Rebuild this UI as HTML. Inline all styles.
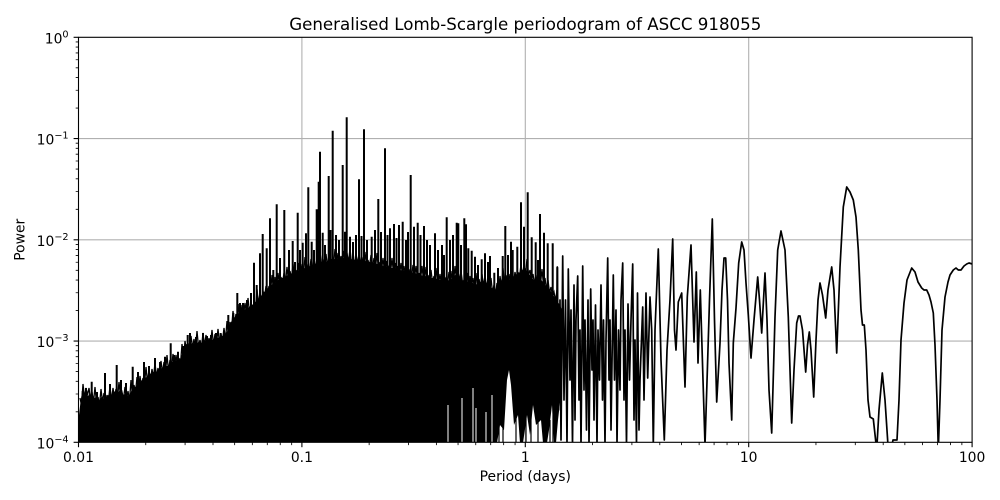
<!DOCTYPE html>
<html>
<head>
<meta charset="utf-8">
<style>
  html, body { margin: 0; padding: 0; background: #ffffff; }
  svg { display: block; }
  text { font-family: "DejaVu Sans", "Liberation Sans", sans-serif; fill: #000; }
</style>
</head>
<body>
<svg width="1000" height="500" viewBox="0 0 1000 500" xmlns="http://www.w3.org/2000/svg">
  <defs>
    <clipPath id="plot">
      <rect x="78.5" y="37.3" width="893.6" height="405"/>
    </clipPath>
  </defs>
  <rect x="0" y="0" width="1000" height="500" fill="#ffffff"/>

  <!-- grid -->
  <g stroke="#b0b0b0" stroke-width="1.1" fill="none">
    <line x1="301.9" y1="37.3" x2="301.9" y2="442.3"/>
    <line x1="525.3" y1="37.3" x2="525.3" y2="442.3"/>
    <line x1="748.7" y1="37.3" x2="748.7" y2="442.3"/>
    <line x1="78.5" y1="138.55" x2="972.1" y2="138.55"/>
    <line x1="78.5" y1="239.8" x2="972.1" y2="239.8"/>
    <line x1="78.5" y1="341.05" x2="972.1" y2="341.05"/>
  </g>

  <g clip-path="url(#plot)">
    <!-- solid mass -->
    <path fill="#000" stroke="none" d="M79,443 L79,415 L80.5,402 L82,392 L84,395 L86,390 L88,396 L90,393 L93,399 L96,397 L99,401 L102,396 L105,400 L108,395 L111,397 L114,391 L117,394 L120,390 L123,396 L126,393 L129,397 L132,389 L135,387 L138,384 L141,381 L144,378 L147,377 L150,374 L153,372 L156,373 L159,369 L162,368 L165,366 L168,366 L171,362 L174,362 L177,360 L180,359 L183,352 L186,344 L189,345 L192,343 L195,344 L198,342 L201,343 L204,340 L207,341 L210,339 L213,340 L216,337 L219,338 L222,336 L225,335 L228,330 L231,322 L234,318 L237,315 L240,312 L243,310 L246,309 L249,307 L252,305 L255,302 L258,300 L261,296 L264,292 L267,289 L270,286 L274,283 L278,280 L282,278 L286,276 L290,274 L295,272 L300,270 L305,268 L310,266 L315,264 L320,262 L325,262 L330,260 L335,259 L340,258 L345,258 L350,259 L355,260 L360,260 L365,261 L370,262 L375,263 L380,265 L385,266 L390,268 L395,268 L400,270 L405,271 L410,272 L415,273 L420,275 L425,276 L430,278 L435,278 L440,280 L445,278 L450,281 L455,275 L460,277 L465,283 L470,280 L475,285 L480,282 L485,283 L490,287 L495,290 L500,282 L505,276 L510,280 L515,275 L520,272 L525,268 L530,275 L535,282 L540,278 L545,285 L550,290 L555,298 L560,305 L562,310 L562,385 L558,420 L556,443 L554,443 L552,405 L549,430 L547,443 L543,443 L541,420 L536,425 L533,405 L530,435 L527,415 L523,443 L520,443 L518,415 L514,425 L511,385 L509,370 L507,380 L504,430 L500,425 L497,443 Z"/>

    <!-- jagged envelope texture -->
    <path fill="none" stroke="#000" stroke-width="1.3" stroke-linejoin="miter" d="M80,398 L81.5,405 L83,384 L84.5,398 L86,388 L87.5,395 L89,388 L90.5,400 L92,392 L93.5,402 L95,387 L96.5,403 L98,397 L99.5,405 L101,389 L102.5,402 L104,393 L105.5,404 L107,395 L108.5,401 L110,386 L111.5,401 L113,388 L114.5,398 L116,389 L117.5,398 L119,382 L120.5,396 L122,392 L123.5,399 L125,387 L126.5,399 L128,391 L129.5,401 L131,380 L132.5,396 L134,385 L135.5,393 L137,377 L138.5,390 L140,376 L141.5,387 L143,378 L144.5,384 L146,367 L147.5,382 L149,370 L150.5,380 L152,369 L153.5,378 L155,363 L156.5,377 L158,368 L159.5,375 L161,361 L162.5,373 L164,362 L165.5,372 L167,355 L168.5,371 L170,360 L171.5,368 L173,354 L174.5,367 L176,355 L177.5,366 L179,358 L180.5,364 L182,344 L183.5,359 L185,341 L186.5,351 L188,343 L189.5,350 L191,336 L192.5,348 L194,339 L195.5,349 L197,331 L198.5,347 L200,340 L201.5,348 L203,333 L204.5,346 L206,335 L207.5,346 L209,338 L210.5,344 L212,330 L213.5,345 L215,334 L216.5,343 L218,329 L219.5,343 L221,334 L222.5,341 L224,328 L225.5,340 L227,321 L228.5,337 L230,322 L231.5,330 L233,311 L234.5,324 L236,314 L237.5,321 L239,304 L240.5,318 L242,305 L243.5,315 L245,303 L246.5,314 L248,298 L249.5,313 L251,304 L252.5,311 L254,303 L255.5,308 L257,289 L258.5,305 L260,292 L261.5,302 L263,291 L264.5,298 L266,286 L267.5,295 L269,286 L270.5,292 L272,275 L273.5,290 L275,277 L276.5,287 L278,273 L279.5,285 L281,277 L282.5,283 L284,273 L285.5,282 L287,267 L288.5,281 L290,271 L291.5,279 L293,264 L294.5,278 L296,270 L297.5,277 L299,263 L300.5,275 L302,264 L303.5,274 L305,257 L306.5,273 L308,264 L309.5,272 L311,259 L312.5,271 L314,258 L315.5,269 L317,261 L318.5,268 L320,251 L321.5,267 L323,259 L324.5,267 L326,254 L327.5,267 L329,254 L330.5,265 L332,259 L333.5,265 L335,249 L336.5,264 L338,253 L339.5,263 L341,256 L342.5,263 L344,251 L345.5,263 L347,253 L348.5,263 L350,248 L351.5,264 L353,257 L354.5,265 L356,252 L357.5,265 L359,254 L360.5,265 L362,257 L363.5,266 L365,252 L366.5,266 L368,260 L369.5,267 L371,255 L372.5,267 L374,258 L375.5,268 L377,253 L378.5,269 L380,262 L381.5,270 L383,258 L384.5,271 L386,261 L387.5,272 L389,267 L390.5,273 L392,258 L393.5,273 L395,263 L396.5,273 L398,266 L399.5,275 L401,263 L402.5,275 L404,266 L405.5,276 L407,260 L408.5,276 L410,269 L411.5,277 L413,265 L414.5,278 L416,266 L417.5,279 L419,273 L420.5,280 L422,266 L423.5,280 L425,267 L426.5,281 L428,275 L429.5,282 L431,270 L432.5,283 L434,276 L435.5,283 L437,268 L438.5,284 L440,274 L441.5,285 L443,270 L444.5,284 L446,277 L447.5,284 L449,272 L450.5,285 L452,271 L453.5,283 L455,266 L456.5,280 L458,271 L459.5,281 L461,271 L462.5,283 L464,280 L465.5,287 L467,273 L468.5,287 L470,276 L471.5,285 L473,278 L474.5,288 L476,273 L477.5,289 L479,279 L480.5,287 L482,274 L483.5,287 L485,275 L486.5,288 L488,279 L489.5,290 L491,278 L492.5,293 L494,285 L495.5,295 L497,283 L498.5,292 L500,276 L501.5,287 L503,268 L504.5,284 L506,275 L507.5,282 L509,274 L510.5,284 L512,267 L513.5,283 L515,272 L516.5,280 L518,272 L519.5,278 L521,264 L522.5,276 L524,266 L525.5,274 L527,259 L528.5,275 L530,270 L531.5,280 L533,274 L534.5,284 L536,275 L537.5,286 L539,278 L540.5,284 L542,269 L543.5,285 L545,278 L546.5,290 L548,280 L549.5,293 L551,287 L552.5,296 L554,292 L555.5,301 L557,290"/>

    <!-- thin white gaps in the lower mass -->
    <path fill="none" stroke="#fff" stroke-width="1" d="M448,405 V443 M462,398 V443 M473,388 V443 M476,408 V443 M486,412 V443 M492,395 V443"/>

    <!-- thin lines reaching the bottom -->
    <path fill="none" stroke="#000" stroke-width="1.2" d="M499,400 V443 M503,405 V443 M516,410 V443 M526,410 V443 M531,400 V443 M538,415 V443 M550,420 V443 M553,400 V443"/>

    <!-- spikes, low-period group -->
    <path fill="none" stroke="#000" stroke-width="2" d="M82.7,420 V391 M86,420 V388 M91.7,420 V381.7 M97,420 V392 M105,420 V373 M110,420 V384 M116.7,420 V365 M121,420 V380 M126,420 V383 M132.7,420 V366.7 M138,420 V372 M144,420 V362 M149,420 V366 M155,420 V358 M160,420 V362 M165,420 V356.7 M170.7,420 V343.3 M174,420 V355 M178,420 V351.7 M183,420 V346 M187.7,420 V335 M190,420 V333 M196,420 V337 M203,420 V333 M207,420 V336 M211,420 V335 M216,420 V333 M220.7,420 V333 M224,420 V331 M228.3,420 V315 M233.3,420 V313 M237.3,420 V293 M240,420 V303 M243,420 V303 M247,420 V300"/>

    <!-- spikes, main group -->
    <path fill="none" stroke="#000" stroke-width="2" d="M251,330 V293 M254,330 V262.7 M256.7,330 V285 M260,330 V253.3 M262.7,330 V234 M266.7,330 V248.3 M270,330 V218.3 M273.3,330 V270 M276.7,330 V204.3 M280,330 V258 M284.3,330 V210 M289,330 V250 M292.7,330 V241 M295,330 V262 M297.7,330 V212.7 M300,330 V250 M302.7,330 V242.7 M306,330 V233.3 M308.3,330 V187.3 M311.7,330 V241.7 M314,330 V250 M316.7,330 V209.3 M318.7,330 V181.7 M320,330 V151.7 M322.7,330 V232.7 M325,330 V245 M328.7,330 V176 M330.5,330 V230 M332.7,330 V130.7 M336,330 V235 M339,330 V240 M342.7,330 V165 M345,330 V231.7 M346.7,330 V117.3 M350,330 V236.7 M353,330 V242 M356,330 V235 M359,330 V179.3 M361.5,330 V236 M364,330 V129.3 M367,330 V240 M371.7,330 V236.7 M375,330 V230 M378.3,330 V199 M381,330 V232 M385,330 V148.3 M387.5,330 V235 M390,330 V228.3 M394,330 V224 M396.5,330 V238 M399,330 V225 M402.7,330 V221.7 M406,330 V240 M408,330 V232 M410.7,330 V175 M414,330 V226.7 M417.7,330 V222.7 M420.5,330 V235 M424,330 V226 M427,330 V240 M430,330 V245 M435,330 V233.3 M438,330 V250 M442,330 V245 M444,330 V255 M446.7,330 V217.3 M450,330 V240 M453,330 V235 M456.7,330 V222.7 M458.3,330 V223.3 M461,330 V245 M464.3,330 V218.3 M466,330 V224.3 M468.3,330 V248.3 M471.7,330 V250.7 M475,330 V256.7 M478,330 V265 M481.7,330 V259.3 M485,330 V253.3 M488,330 V262 M490,330 V256 M494.3,330 V272.7 M498,330 V268 M502.7,330 V256 M505.3,330 V226 M508,330 V255 M511,330 V241.7 M512.7,330 V250 M517.3,330 V246.7 M521,330 V202.3 M524,330 V226.7 M527.7,330 V192.3 M531.7,330 V237.3 M535.7,330 V242.3 M538,330 V260 M540,330 V214 M544,330 V232.7 M547.7,330 V243.3 M552.7,330 V243.3 M557.3,330 V267.3"/>

    <!-- zigzag and smooth long-period curve -->
    <path fill="none" stroke="#000" stroke-width="1.7" stroke-linejoin="round" d="M555,298 L556,420 L557.3,267 L558.5,410 L560,300 L561,440 L562.7,256 L564,400 L565.5,300 L567,445 L568.3,269 L570,380 L571,310 L572.5,445 L574,285 L575,420 L576,320 L577.7,276 L579,400 L580,330 L581,445 L582.7,266 L584,390 L585,320 L586.5,430 L588,300 L589,445 L590.7,289 L592,370 L593,320 L594,420 L595.5,305 L597,445 L598,330 L599.5,380 L601,285 L602.5,400 L603.5,320 L605,445 L606,340 L607.7,258 L609,380 L610,320 L611,430 L613.3,275 L614.5,380 L616,310 L617,445 L618.5,330 L620,390 L621,300 L622.7,263 L624,400 L625,330 L626.5,445 L628,304 L629.5,380 L631,320 L632.7,264 L634,420 L635,340 L636.5,445 L637.5,293 L639,430 L640,380 L642.7,307 L644,400 L646,293 L647.7,378 L650,297 L651.7,330 L653.3,445 L655,330 L658.3,249 L661,360 L664.3,440 L667,350 L670,300 L672.7,239 L674.5,330 L676,350 L678.3,302 L681.7,293 L685,387 L687.3,297 L691,245 L694,342 L696.3,272 L698,363 L700.3,290 L703,380 L705,445 L707.3,372 L709.5,300 L712.3,219 L714.5,320 L716.7,402 L720,343 L722,290 L724,258 L725.7,258 L727.5,300 L729,363 L731.7,420 L733.3,343 L736,308 L738.7,263 L741.7,242 L744,250 L746,283 L748.3,315 L751,358 L754,320 L757.7,277 L759.5,300 L761.7,333 L763.5,300 L765,273 L767,320 L769,390 L771.7,433 L775,317 L777.7,250 L781,231 L785,250 L788.3,317 L791.7,423 L794,370 L796.7,323 L798.5,316 L800,316 L802.5,330 L805.7,372 L807.5,345 L809.3,332 L811,350 L813.7,397 L816,340 L818,300 L820,283 L822.5,295 L825.7,318 L828,290 L831.7,267 L834,290 L836.7,353 L840,267 L843.3,207 L846.7,187 L850,192 L853.3,200 L856,217 L858.3,250 L861,310 L862.5,325 L864.3,325 L866,350 L868,400 L870,417 L873.3,419 L876.7,450 L879,410 L882.3,373 L885,400 L888.3,450 L891,450 L893,440 L897,440 L899,400 L901,340 L904,303 L907,280 L911.7,268 L915,272 L918,282 L921.7,288 L924,290 L926.7,290 L929,295 L931,302 L933.3,313 L935,345 L937,400 L938.3,450 L940,400 L942,330 L945,297 L948,282 L950,275 L953.3,270 L956,268 L958.3,270 L961,270 L964,266 L966.7,264 L969,263 L972.3,264"/>
  </g>

  <!-- spines -->
  <rect x="78.5" y="37.3" width="893.6" height="405" fill="none" stroke="#000" stroke-width="1.1"/>

  <!-- x ticks -->
  <g stroke="#000" stroke-width="1.1">
    <line x1="78.5" y1="442.3" x2="78.5" y2="447.2"/>
    <line x1="301.9" y1="442.3" x2="301.9" y2="447.2"/>
    <line x1="525.3" y1="442.3" x2="525.3" y2="447.2"/>
    <line x1="748.7" y1="442.3" x2="748.7" y2="447.2"/>
    <line x1="972.1" y1="442.3" x2="972.1" y2="447.2"/>
  </g>
  <path stroke="#000" stroke-width="0.85" fill="none" d="M145.75,442.3 v2.8 M185.09,442.3 v2.8 M213,442.3 v2.8 M234.65,442.3 v2.8 M252.34,442.3 v2.8 M267.29,442.3 v2.8 M280.25,442.3 v2.8 M291.67,442.3 v2.8 M369.15,442.3 v2.8 M408.49,442.3 v2.8 M436.4,442.3 v2.8 M458.05,442.3 v2.8 M475.74,442.3 v2.8 M490.69,442.3 v2.8 M503.65,442.3 v2.8 M515.07,442.3 v2.8 M592.55,442.3 v2.8 M631.89,442.3 v2.8 M659.8,442.3 v2.8 M681.45,442.3 v2.8 M699.14,442.3 v2.8 M714.09,442.3 v2.8 M727.05,442.3 v2.8 M738.47,442.3 v2.8 M815.95,442.3 v2.8 M855.29,442.3 v2.8 M883.2,442.3 v2.8 M904.85,442.3 v2.8 M922.54,442.3 v2.8 M937.49,442.3 v2.8 M950.45,442.3 v2.8 M961.87,442.3 v2.8"/>

  <!-- y ticks -->
  <g stroke="#000" stroke-width="1.1">
    <line x1="73.6" y1="37.3" x2="78.5" y2="37.3"/>
    <line x1="73.6" y1="138.55" x2="78.5" y2="138.55"/>
    <line x1="73.6" y1="239.8" x2="78.5" y2="239.8"/>
    <line x1="73.6" y1="341.05" x2="78.5" y2="341.05"/>
    <line x1="73.6" y1="442.3" x2="78.5" y2="442.3"/>
  </g>
  <path stroke="#000" stroke-width="0.85" fill="none" d="M78.5,108.07 h-2.8 M78.5,90.24 h-2.8 M78.5,77.59 h-2.8 M78.5,67.78 h-2.8 M78.5,59.76 h-2.8 M78.5,52.98 h-2.8 M78.5,47.11 h-2.8 M78.5,41.93 h-2.8 M78.5,209.32 h-2.8 M78.5,191.49 h-2.8 M78.5,178.84 h-2.8 M78.5,169.03 h-2.8 M78.5,161.01 h-2.8 M78.5,154.23 h-2.8 M78.5,148.36 h-2.8 M78.5,143.18 h-2.8 M78.5,310.57 h-2.8 M78.5,292.74 h-2.8 M78.5,280.09 h-2.8 M78.5,270.28 h-2.8 M78.5,262.26 h-2.8 M78.5,255.48 h-2.8 M78.5,249.61 h-2.8 M78.5,244.43 h-2.8 M78.5,411.82 h-2.8 M78.5,393.99 h-2.8 M78.5,381.34 h-2.8 M78.5,371.53 h-2.8 M78.5,363.51 h-2.8 M78.5,356.73 h-2.8 M78.5,350.86 h-2.8 M78.5,345.68 h-2.8"/>

  <!-- x tick labels -->
  <g font-size="13.89" text-anchor="middle">
    <text x="78.5" y="462">0.01</text>
    <text x="301.9" y="462">0.1</text>
    <text x="525.3" y="462">1</text>
    <text x="748.7" y="462">10</text>
    <text x="972.1" y="462">100</text>
  </g>

  <!-- y tick labels -->
  <g font-size="13.89" text-anchor="end">
    <text x="68.6" y="43.3">10<tspan dy="-6" font-size="9.7">0</tspan></text>
    <text x="68.6" y="144.55">10<tspan dy="-6" font-size="9.7">−1</tspan></text>
    <text x="68.6" y="245.8">10<tspan dy="-6" font-size="9.7">−2</tspan></text>
    <text x="68.6" y="347.05">10<tspan dy="-6" font-size="9.7">−3</tspan></text>
    <text x="68.6" y="448.3">10<tspan dy="-6" font-size="9.7">−4</tspan></text>
  </g>

  <!-- axis labels -->
  <text x="525.3" y="481" font-size="13.89" text-anchor="middle">Period (days)</text>
  <text transform="translate(24.5,239.8) rotate(-90)" font-size="13.89" text-anchor="middle">Power</text>

  <!-- title -->
  <text x="525.3" y="30" font-size="16.67" text-anchor="middle">Generalised Lomb-Scargle periodogram of ASCC 918055</text>
</svg>
</body>
</html>
